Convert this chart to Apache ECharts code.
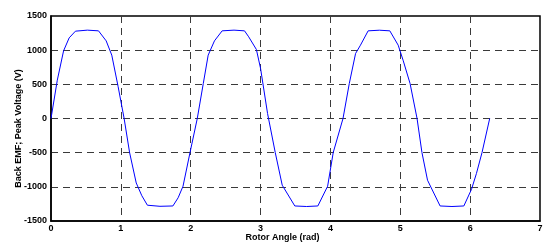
<!doctype html>
<html>
<head>
<meta charset="utf-8">
<title>Back EMF</title>
<script src="https://cdn.jsdelivr.net/npm/echarts@6/dist/echarts.min.js"></script>
<style>
  html, body { margin: 0; padding: 0; background: #fff; }
  #main { width: 544px; height: 244px; }
</style>
</head>
<body>
<div id="main"></div>
<script>
// rotor angle (rad) and back EMF (V)
var angles = [
    0, 0.09, 0.18, 0.26, 0.35, 0.52, 0.68, 0.79, 0.87, 0.96,
    1.047, 1.125, 1.22, 1.30, 1.38, 1.56, 1.745, 1.82, 1.89, 1.99,
    2.094, 2.18, 2.25, 2.34, 2.45, 2.62, 2.77, 2.83, 2.94, 3.00, 3.10,
    3.21, 3.31, 3.49, 3.66, 3.82, 3.96, 4.04,
    4.18, 4.27, 4.36, 4.43, 4.54, 4.70, 4.85, 4.97, 5.04, 5.14, 5.24,
    5.31, 5.39, 5.57, 5.74, 5.91, 6.02, 6.09, 6.17, 6.28
];
var emf = [
    0, 560, 990, 1180, 1278, 1293, 1283, 1136, 927, 470,
    0, -498, -943, -1130, -1269, -1285, -1280, -1160, -991, -498,
    0, 512, 927, 1136, 1283, 1293, 1283, 1195, 1010, 732, 73,
    -498, -976, -1280, -1288, -1280, -991, -498,
    0, 512, 951, 1073, 1283, 1292, 1283, 1073, 853, 512, 0,
    -498, -903, -1280, -1288, -1280, -1035, -805, -498, 0
];
var xTicks = [0, 7, 1];
var yTicks = [-1500, 1500, 500];

var chart = echarts.init(document.getElementById('main'), null, { devicePixelRatio: 1 });

var font = { fontFamily: 'Liberation Sans', fontWeight: 'bold', fontSize: 9, color: '#000' };
var dashed = { show: true, showMinLine: false, showMaxLine: false,
    lineStyle: { color: '#3a3a3a', type: [7, 5], width: 1 } };

chart.setOption({
    animation: false,
    backgroundColor: '#fff',
    grid: {
        left: 51, right: 4, top: 16, bottom: 23,
        outerBoundsMode: 'none', containLabel: false,
        show: true, borderColor: '#000', borderWidth: 1.5
    },
    xAxis: {
        type: 'value',
        min: xTicks[0], max: xTicks[1], interval: xTicks[2],
        name: 'Rotor Angle (rad)',
        nameLocation: 'middle',
        nameGap: 12,
        nameMoveOverlap: false,
        nameTextStyle: Object.assign({}, font, { fontSize: 9, padding: [0, 26, 0, 0] }),
        axisLine: { show: true, onZero: false, lineStyle: { color: '#000', width: 1.5 } },
        axisTick: { show: false },
        axisLabel: Object.assign({ margin: 3, formatter: function (v) { return String(v); } }, font),
        splitLine: dashed
    },
    yAxis: {
        type: 'value',
        min: yTicks[0], max: yTicks[1], interval: yTicks[2],
        name: 'Back EMF; Peak Voltage (V)',
        nameLocation: 'middle',
        nameGap: 28,
        nameMoveOverlap: false,
        nameTextStyle: Object.assign({}, font, { fontSize: 9, padding: [0, 20, 0, 0] }),
        axisLine: { show: true, lineStyle: { color: '#000', width: 1.5 } },
        axisTick: { show: false },
        axisLabel: Object.assign({ margin: 4, formatter: function (v) { return String(v); } }, font),
        splitLine: dashed
    },
    series: [{
        type: 'line',
        data: angles.map(function (a, i) { return [a, emf[i]]; }),
        showSymbol: false,
        lineStyle: { color: '#0000ff', width: 1 },
        silent: true
    }]
});
</script>
</body>
</html>
